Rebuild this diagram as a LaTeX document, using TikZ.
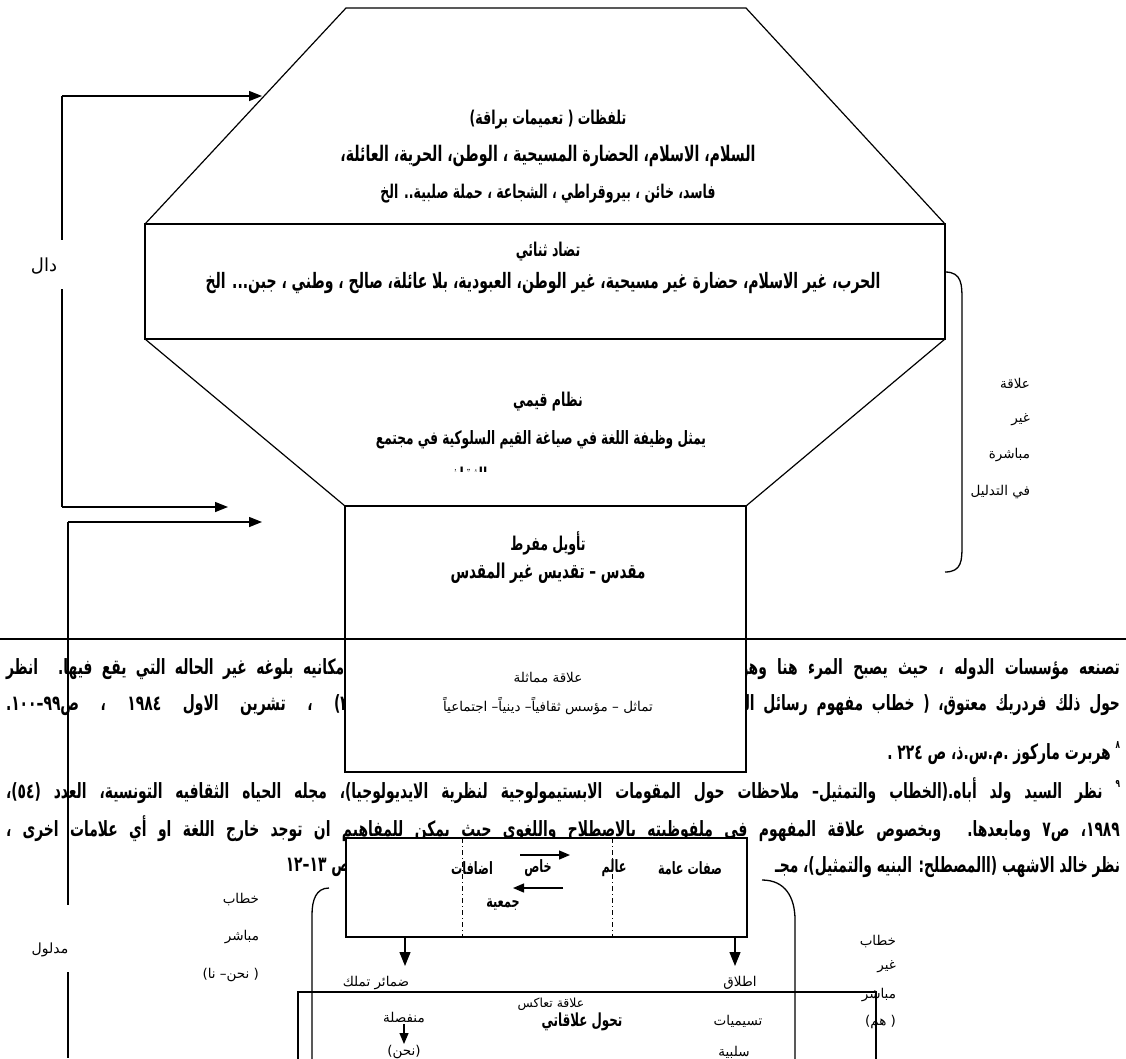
\documentclass[tikz,border=0pt]{standalone}
\usepackage{fontspec}
\usepackage{graphicx}
\usetikzlibrary{arrows.meta}
\TeXXeTstate=1
\newfontfamily\arfont[Script=Arabic]{DejaVu Sans}
\newfontfamily\arbfont[Script=Arabic,FakeStretch=0.66]{DejaVu Sans}
\newcommand\FW[2]{\resizebox{#1pt}{!}{\arbfont\bfseries #2}}
\newcommand\SP[2]{\makebox[#1pt][s]{\arbfont\bfseries\fontsize{21}{23}\selectfont #2}}
\newcommand\PG[1]{{\arbfont\bfseries\fontsize{21}{23}\selectfont #1}}
\newcommand\supn[1]{\raisebox{1ex}{\fontsize{11}{11}\selectfont #1}}
\begin{document}
\begin{tikzpicture}[x=1pt,y=-1pt,
  every node/.style={inner sep=0pt,outer sep=0pt},
  ln/.style={line width=1.2pt},
  bx/.style={draw,line width=1.6pt,fill=white},
  arr/.style={line width=1.4pt,-{Triangle[length=13pt,width=10pt]}},
  sarr/.style={line width=1.2pt,-{Triangle[length=11pt,width=9pt]}},
  darr/.style={line width=1.2pt,-{Triangle[length=14pt,width=11pt]}},
  dd/.style={line width=0.9pt,dash pattern=on 5pt off 3pt on 1pt off 3pt},
  lab/.style={font=\fontsize{13.5}{15}\selectfont\arfont},
  hlab/.style={font=\fontsize{19}{21}\selectfont\arbfont\bfseries},
  blab/.style={font=\fontsize{17}{19}\selectfont\arbfont\bfseries},
  tlab/.style={font=\fontsize{18}{20}\selectfont\arbfont\bfseries}]
\clip (0,0) rectangle (1126,1058);
\fill[white] (0,0) rectangle (1126,1058);

% ---------- page text ----------
\node[anchor=east] (l1r) at (1120,669) {\SP{380}{\beginR تصنعه مؤسسات الدوله ، حيث يصبح المرء هنا وهو\endR}};
\node[anchor=west] (l1l) at (6,669) {\SP{343}{\beginR امكانيه بلوغه غير الحاله التي يقع فيها. انظر\endR}};
\node[anchor=east] (l2r) at (1120,705) {\SP{380}{\beginR حول ذلك فردريك معتوق، ( خطاب مفهوم رسائل الـ\endR}};
\node[anchor=west] (l2l) at (6,705) {\SP{343}{\beginR ٣) ، تشرين الاول ١٩٨٤ ، ص٩٩–١٠٠.\endR}};
\node[anchor=east] (l3) at (1120,753) {\PG{\beginR\supn{٨} هربرت ماركوز .م.س.ذ، ص ٢٢٤ .\endR}};
\node (l4) at (563,791) {\SP{1114}{\beginR\supn{٩} نظر السيد ولد أباه.(الخطاب والتمثيل– ملاحظات حول المقومات الابستيمولوجية لنظرية الايديولوجيا)، مجله الحياه الثقافيه التونسية، العدد (٥٤)،\endR}};
\node (l5) at (563,829) {\SP{1114}{\beginR ١٩٨٩، ص٧ ومابعدها. وبخصوص علاقة المفهوم في ملفوظيته بالاصطلاح واللغوي حيث يمكن للمفاهيم ان توجد خارج اللغة او أي علامات اخرى ،\endR}};
\node[anchor=east] (l6r) at (1120,867) {\PG{\beginR نظر خالد الاشهب (االمصطلح: البنيه والتمثيل)، مجـ\endR}};
\node[anchor=east] (l6l) at (350,867) {\PG{\beginR ص ١٣–١٢\endR}};

% ---------- hexagon ----------
\draw[ln] (145,224) -- (346,8) -- (746,8) -- (945,224);
\node[bx,minimum width=800pt,minimum height=115pt] (mid) at (545,281.5) {};
\draw[ln] (mid.south west) -- (345,506);
\draw[ln] (mid.south east) -- (746,506);
\node[bx,minimum width=401pt,minimum height=266pt,anchor=north west] (low) at (345,506) {};
\coordinate (sepL) at (0,639);
\coordinate (sepR) at (1126,639);
\draw[line width=1.4pt] (sepL) -- (sepR);

\node[hlab] (t1) at (548,120) {\beginR تلفظات ( تعميمات براقة)\endR};
\node (t2) at (548,156) {\FW{415}{\beginR السلام، الاسلام، الحضارة المسيحية ، الوطن، الحرية، العائلة،\endR}};
\node (t3) at (548,194) {\FW{335}{\beginR فاسد، خائن ، بيروقراطي ، الشجاعة ، حملة صلبية.. الخ\endR}};
\node[hlab] (m1) at (548,252) {\beginR تضاد ثنائي\endR};
\node (m2) at (543,283) {\FW{675}{\beginR الحرب، غير الاسلام، حضارة غير مسيحية، غير الوطن، العبودية، بلا عائلة، صالح ، وطني ، جبن... الخ\endR}};
\node[hlab] (n1) at (548,402) {\beginR نظام قيمي\endR};
\node (n2) at (541,440) {\FW{330}{\beginR يمثل وظيفة اللغة في صياغة القيم السلوكية في مجتمع\endR}};
\begin{scope}
\clip (400,455) rectangle (530,471);
\node[hlab] (n3) at (463,477) {\beginR الثقافي\endR};
\end{scope}
\node[hlab] (o1) at (548,543) {\beginR تأويل مفرط\endR};
\node (o2) at (548,573) {\FW{195}{\beginR مقدس – تقديس غير المقدس\endR}};
\node[lab] (o3) at (548,678) {\beginR علاقة مماثلة\endR};
\node[lab] (o4) at (548,706) {\beginR تماثل – مؤسس ثقافياً– دينياً– اجتماعياً\endR};

% ---------- left connectors ----------
\coordinate (dalA) at (62,96);
\coordinate (dalB) at (62,507);
\coordinate (tipA) at (262,96);
\coordinate (tipB) at (228,507);
\coordinate (madA) at (68,522);
\coordinate (tipC) at (262,522);
\node[font=\fontsize{18}{20}\selectfont\arfont] (dal) at (44,266) {\beginR دال\endR};
\node[font=\fontsize{14}{16}\selectfont\arfont] (madlul) at (50,950) {\beginR مدلول\endR};
\draw[ln] (dalA) -- (62,240);
\draw[ln] (62,289) -- (dalB);
\draw[arr] (dalA) -- (tipA);
\draw[arr] (dalB) -- (tipB);
\draw[arr] (madA) -- (tipC);
\draw[ln] (madA) -- (68,905);
\draw[ln] (68,972) -- (68,1058);

% ---------- right bracket (top) ----------
\draw[line width=1.3pt] (945,272) .. controls (962,272) and (962,285) .. (962,300) -- (962,545) .. controls (962,560) and (962,572) .. (945,572);
\node[lab,anchor=east] (r1) at (1030,383) {\beginR علاقة\endR};
\node[lab,anchor=east] (r2) at (1030,420) {\beginR غير\endR};
\node[lab,anchor=east] (r3) at (1030,455) {\beginR مباشرة\endR};
\node[lab,anchor=east] (r4) at (1030,492) {\beginR في التدليل\endR};

% ---------- lower structure ----------
\node[bx,minimum width=401pt,minimum height=99pt,anchor=north west] (b1) at (346,838) {};
\draw[dd] (462,838) -- (462,937);
\draw[dd] (612,838) -- (612,937);
\draw[sarr] (520,855) -- (570,855);
\draw[sarr] (563,888) -- (513,888);
\node[blab] (s1) at (690,868) {\beginR صفات عامة\endR};
\node[blab] (s2) at (614,868) {\beginR عالم\endR};
\node[blab] (s3) at (538,868) {\beginR خاص\endR};
\node[blab] (s4) at (472,868) {\beginR اضافات\endR};
\node[blab] (s5) at (503,905) {\beginR جمعية\endR};
\coordinate (dA1) at (405,937);
\coordinate (dA2) at (405,966);
\coordinate (dB1) at (735,937);
\coordinate (dB2) at (735,966);
\draw[darr] (dA1) -- (dA2);
\draw[darr] (dB1) -- (dB2);
\node[lab] (p1) at (376,983) {\beginR ضمائر تملك\endR};
\node[lab] (p2) at (740,983) {\beginR اطلاق\endR};
\draw[line width=1.3pt] (298,1070) -- (298,992) -- (876,992) -- (876,1070);
\node[font=\fontsize{12.5}{14}\selectfont\arfont] (q0) at (551,1004) {\beginR علاقة تعاكس\endR};
\node[tlab] (q1) at (582,1022) {\beginR تحول علاقاتي\endR};
\node[lab] (q2) at (738,1021) {\beginR تسيميات\endR};
\node[lab] (q3) at (404,1018) {\beginR منفصلة\endR};
\draw[sarr] (404,1024) -- (404,1044);
\node[lab] (q4) at (404,1052) {\beginR(نحن)\endR};
\node[lab] (q5) at (734,1052) {\beginR سلبية\endR};
\draw[line width=1.3pt] (329,888) .. controls (316,888) and (312,900) .. (312,915) -- (312,1070);
\draw[line width=1.3pt] (762,880) .. controls (785,880) and (795,897) .. (795,920) -- (795,1070);
\node[lab,anchor=east] (k1) at (259,900) {\beginR خطاب\endR};
\node[lab,anchor=east] (k2) at (259,937) {\beginR مباشر\endR};
\node[lab,anchor=east] (k3) at (259,975) {\beginR ( نحن– نا)\endR};
\node[lab,anchor=east] (h1) at (896,942) {\beginR خطاب\endR};
\node[lab,anchor=east] (h2) at (896,967) {\beginR غير\endR};
\node[lab,anchor=east] (h3) at (896,995) {\beginR مباشر\endR};
\node[lab,anchor=east] (h4) at (896,1022) {\beginR ( هم)\endR};
\end{tikzpicture}
\end{document}
